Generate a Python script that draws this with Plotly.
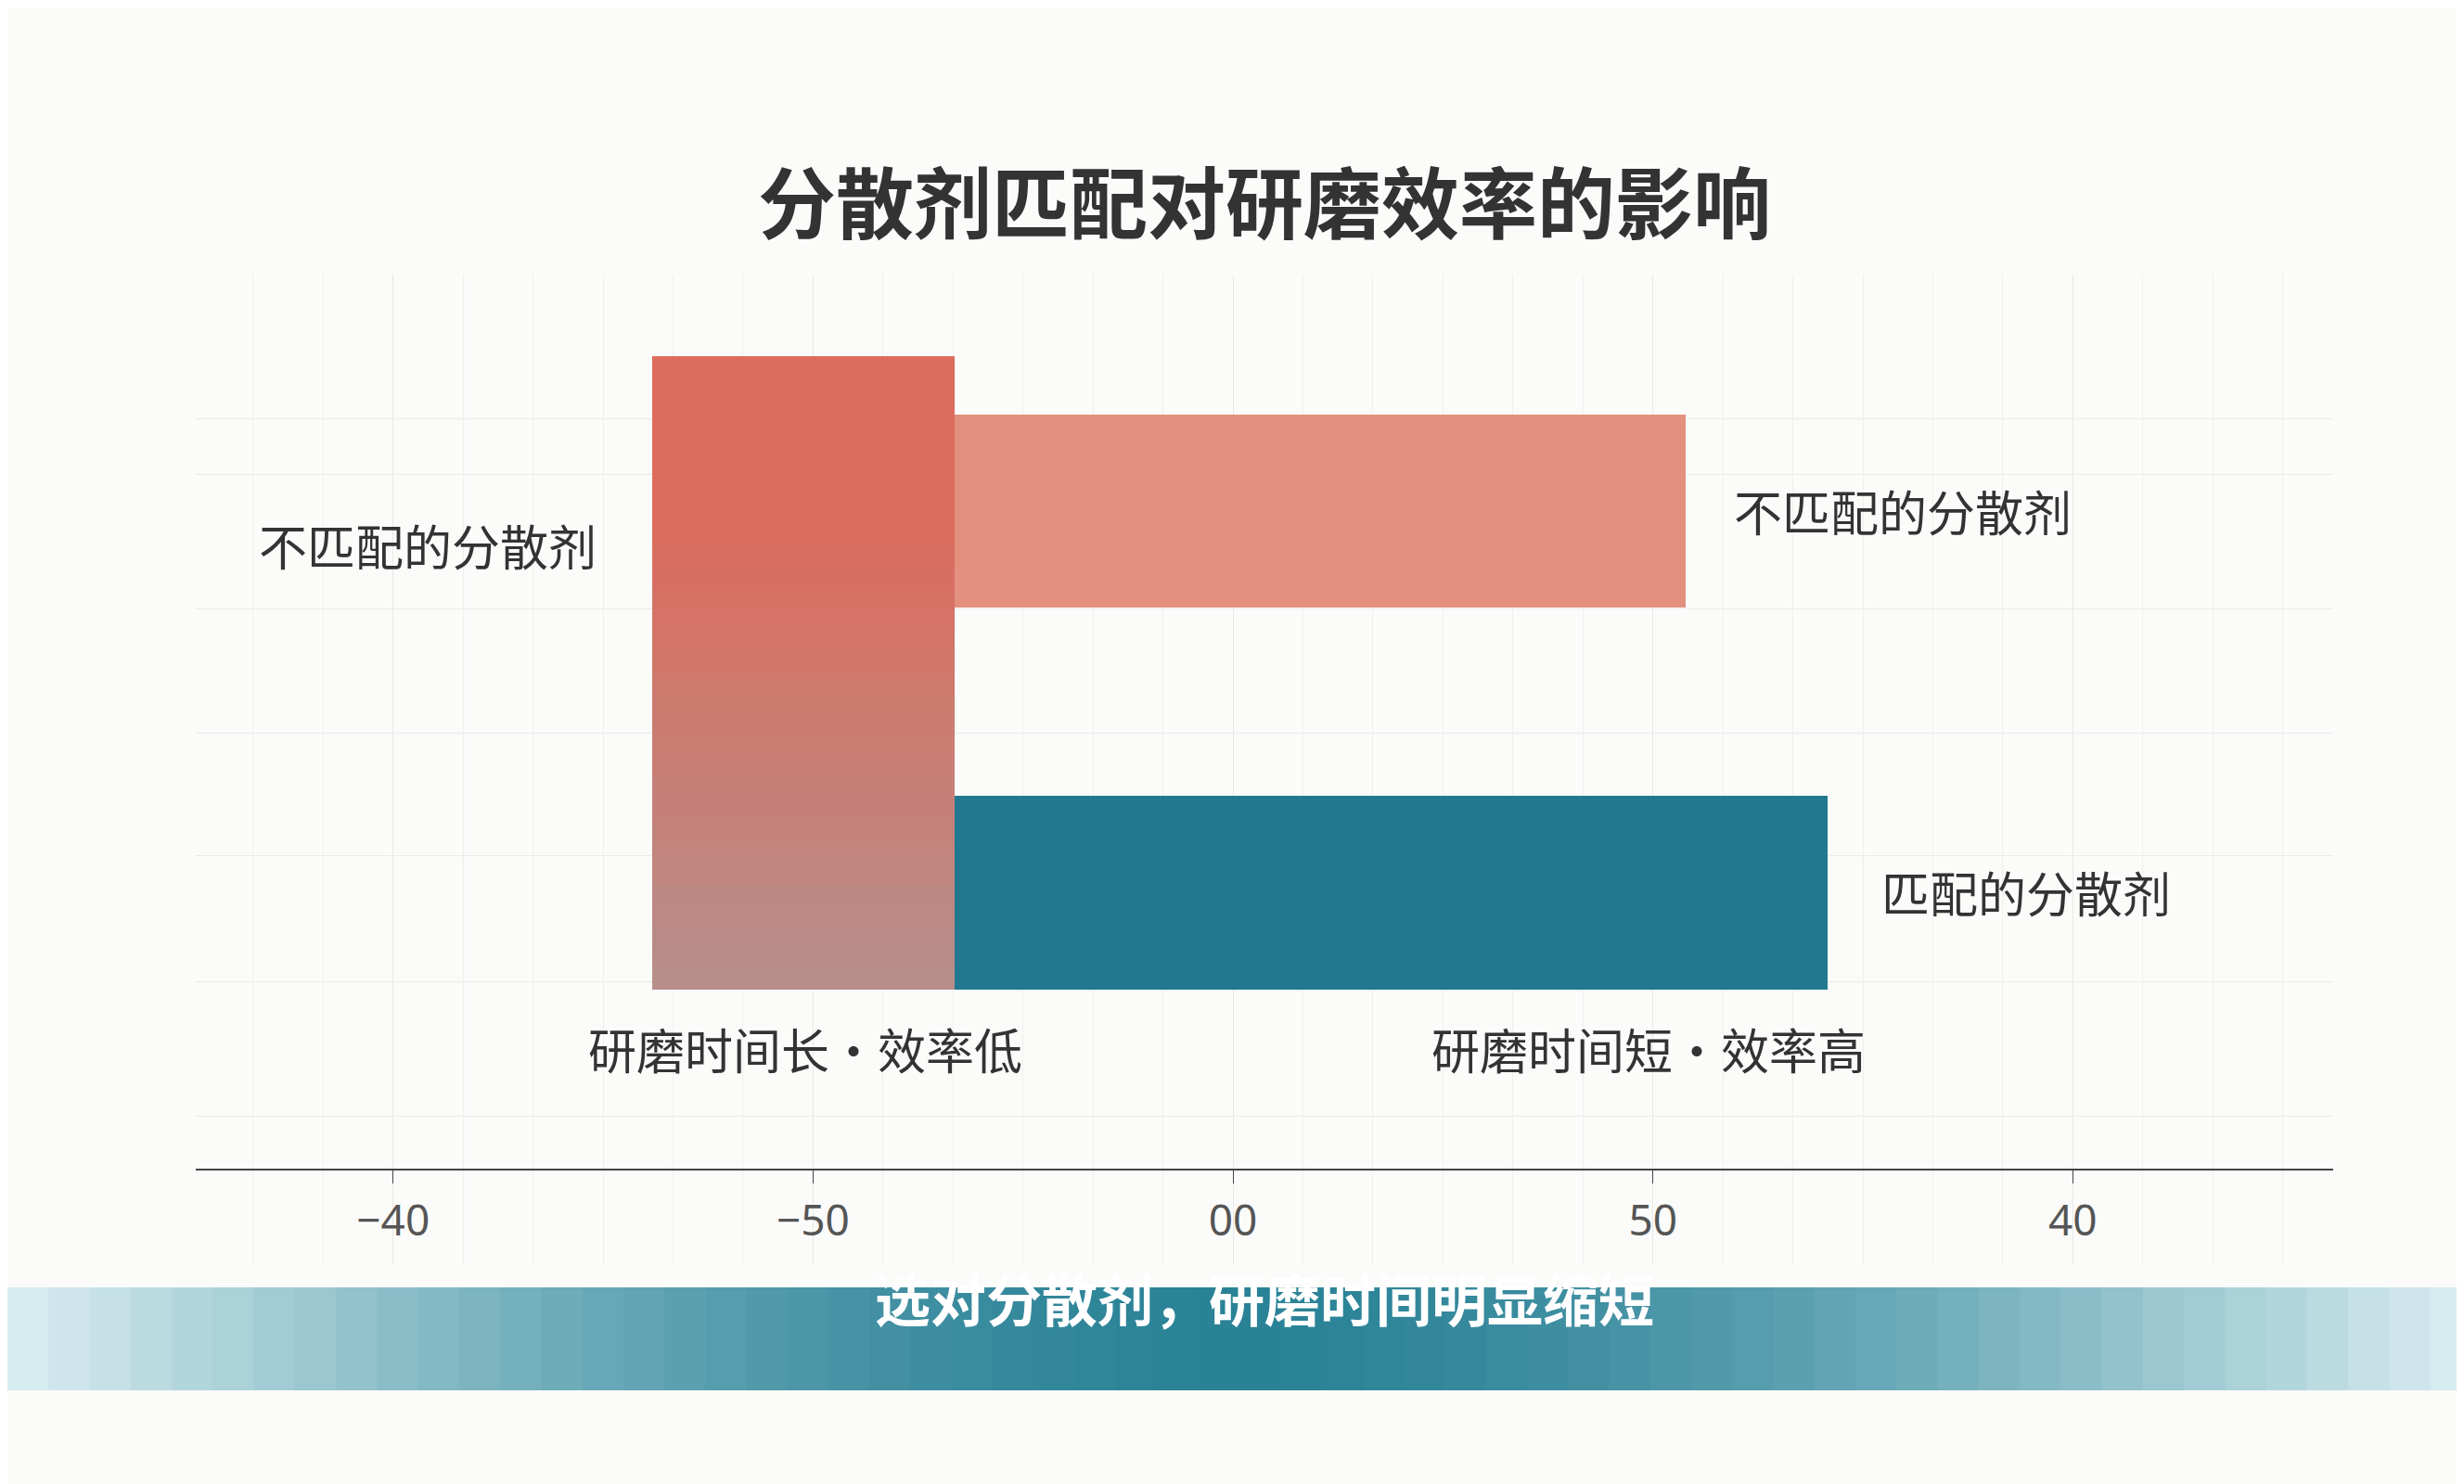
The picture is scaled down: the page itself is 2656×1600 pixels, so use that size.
import plotly.graph_objects as go

# data
tick_vals = [-2, -1, 0, 1, 2]
tick_text = ["\u221240", "\u221250", "00", "50", "40"]
bar_names = ["研磨时间长", "不匹配的分散剂", "匹配的分散剂"]
bar_start = [-1.382, -0.663, -0.663]
bar_end = [-0.663, 1.079, 1.416]
bar_y = [423.5, 320.5, 563.5]
bar_h = [403, 123, 123]
bar_colors = ["#cf7a6c", "#e4907e", "#21788f"]

fig = go.Figure()


def mix(a, b, t):
    a = [int(a[i:i + 2], 16) for i in (1, 3, 5)]
    b = [int(b[i:i + 2], 16) for i in (1, 3, 5)]
    return "#%02x%02x%02x" % tuple(round(a[k] + (b[k] - a[k]) * t) for k in range(3))


# gradient-like tall bar: layered segments
top, bot = 222, 625
n = 30
for i in range(n):
    h = (bot - top) / n
    t = max(0.0, (i / (n - 1) - 0.25) / 0.75)
    c = mix("#dc6c5c", "#b78e8a", t)
    fig.add_trace(go.Bar(orientation="h", y=[top + h * (i + 0.5)], x=[bar_end[0] - bar_start[0]],
                         base=[bar_start[0]], width=[h + 0.6], marker=dict(color=c, line_width=0),
                         hoverinfo="skip", showlegend=False))
for i in (1, 2):
    fig.add_trace(go.Bar(orientation="h", y=[bar_y[i]], x=[bar_end[i] - bar_start[i]], base=[bar_start[i]],
                         width=[bar_h[i]], marker=dict(color=bar_colors[i], line_width=0),
                         name=bar_names[i], showlegend=False))

lab = dict(family="Noto Sans CJK SC", size=52, color="#333")
anns = [
    ("不匹配的分散剂", -1.918, 342), ("不匹配的分散剂", 1.596, 320), ("匹配的分散剂", 1.888, 563),
    ("研磨时间长·效率低", -1.019, 663), ("研磨时间短·效率高", 0.989, 663),
]
for t, x, y in anns:
    fig.add_annotation(text=t, x=x, y=y, xref="x", yref="y", showarrow=False, font=lab)

fig.add_annotation(text="<b>分散剂匹配对研磨效率的影响</b>", x=0.5, y=(1355 - 144) / 1067, xref="paper",
                   yref="paper", showarrow=False, font=dict(family="Noto Sans CJK SC", size=84, color="#333"))

# banner gradient
m = 60
for i in range(m):
    d = abs((i + 0.5) / m - 0.5) * 2
    c = mix("#2a8296", "#dceff2", d ** 1.6)
    fig.add_shape(type="rect", xref="paper", yref="paper", x0=-203 / 2304 + i * (2656 / 2304) / m,
                  x1=-203 / 2304 + (i + 1) * (2656 / 2304) / m + 0.001,
                  y0=-(1491 - 1355) / 1067, y1=-(1380 - 1355) / 1067, fillcolor=c, line_width=0, layer="below")
fig.add_annotation(text="<b>选对分散剂，研磨时间明显缩短</b>", x=0.5, y=(1355 - 1436) / 1067, xref="paper",
                   yref="paper", showarrow=False, font=dict(family="Noto Sans CJK SC", size=60, color="white"))

fig.update_layout(
    width=2656, height=1600, paper_bgcolor="#fbfbfa", plot_bgcolor="#fbfbfa",
    margin=dict(l=203, r=149, t=288, b=245), barmode="overlay", bargap=0,
    xaxis=dict(range=[-2.47, 2.62], tickvals=tick_vals, ticktext=tick_text, showgrid=True,
               gridcolor="#e8e8e6", zeroline=False, showline=True, linecolor="#444", linewidth=2,
               ticks="outside", ticklen=14, tickcolor="#444", anchor="free", position=60 / 630,
               tickfont=dict(family="Noto Sans", size=46, color="#555"),
               minor=dict(dtick=1 / 6, showgrid=True, gridcolor="#efefed", tick0=0)),
    yaxis=dict(range=[800, 170], showticklabels=False, showgrid=True, gridcolor="#ebebe9",
               tickvals=[170, 262, 297, 383, 462, 540, 620, 706], zeroline=False, domain=[0, 1]),
)
fig.write_html("out.html")
